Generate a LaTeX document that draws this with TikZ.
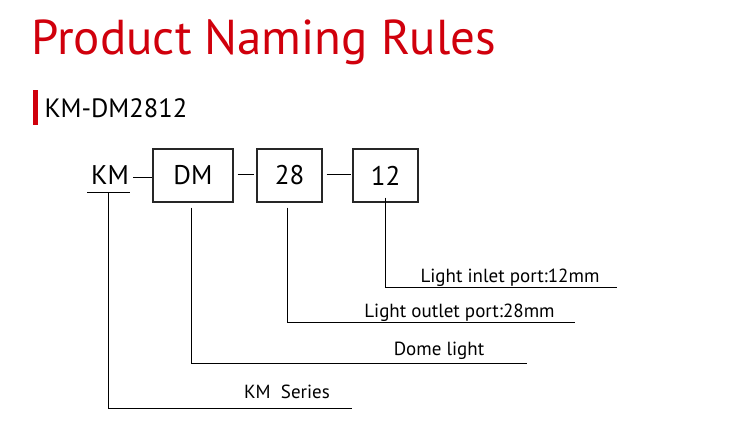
\documentclass[tikz,border=0pt]{standalone}
\usepackage{fontspec}
\setmainfont{PT Sans}
\usetikzlibrary{calc}
\definecolor{namered}{RGB}{208,0,12}

\begin{document}
\begin{tikzpicture}[x=1pt,y=-1pt,line width=1pt,
  codebox/.style={draw=black!85,line width=1.2pt,minimum height=53pt,inner sep=0pt,font=\fontsize{27}{30}\selectfont},
  note/.style={anchor=base,inner sep=0pt,font=\fontsize{19}{22}\selectfont},
  link/.style={draw=black}]
  \useasboundingbox (0,0) rectangle (743,436);
  % titulo
  \node[anchor=base west,inner sep=0pt,text=namered,font=\fontsize{49}{54}\selectfont] (title) at (31,55) {Product Naming Rules};
  \fill[namered] (33,90) rectangle (38,125);
  \node[anchor=base west,inner sep=0pt,font=\fontsize{26.5}{30}\selectfont] (model) at (44,117) {KM-DM2812};
  % codigo
  \node[anchor=base,inner sep=0pt,font=\fontsize{27}{30}\selectfont] (km) at (110,184) {KM};
  \node[codebox,minimum width=80pt] (dm) at (193,175.5) {DM};
  \node[codebox,minimum width=65pt] (d28) at (289.5,175.5) {28};
  \node[codebox,minimum width=65pt] (d12) at (385.5,175.5) {12};
  \draw[link] (87,192) coordinate (kml) -- (130,192) coordinate (kmr);
  \draw[link] ([yshift=-1.5pt]dm.west -| kmr) ++(3,0) -- ([yshift=-1.5pt]dm.west);
  \draw[link] ($(dm.east)+(4,-1.5)$) -- ($(d28.west)+(-2,-1.5)$);
  \draw[link] ($(d28.east)+(4,-1.5)$) -- ($(d12.west)+(-1,-1.5)$);
  % descripciones
  \node[note] (in) at (510,282) {Light inlet port:12mm};
  \node[note] (out) at (459.5,317) {Light outlet port:28mm};
  \node[note] (dome) at (439,355) {Dome light};
  \node[note] (series) at (287,398) {KM\ \ Series};
  \coordinate (inE) at (617,287);
  \coordinate (outE) at (575,322);
  \coordinate (domeE) at (527,363);
  \coordinate (seriesE) at (352,408);
  \draw[link] ([yshift=5pt]d12.south) -- (d12.south |- inE) -- (inE);
  \draw[link] ([shift={(-2.5,5)}]d28.south) -- ([xshift=-2.5pt]d28.south |- outE) -- (outE);
  \draw[link] ([shift={(-2,5)}]dm.south) -- ([xshift=-2pt]dm.south |- domeE) -- (domeE);
  \draw[link] (108,192) -- (108,408) -- (seriesE);
\end{tikzpicture}
\end{document}
